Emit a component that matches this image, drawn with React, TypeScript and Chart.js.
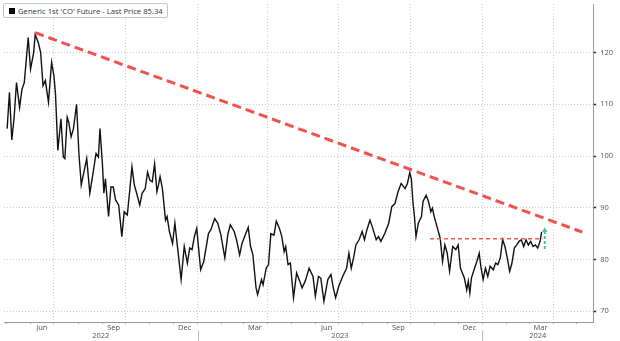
import React, { useEffect, useRef } from 'react';
import { Chart, registerables } from 'chart.js';

Chart.register(...registerables);

// ---- data ----
const DATES = [
  '2022-05-02','2022-05-05','2022-05-08','2022-05-11','2022-05-14','2022-05-18','2022-05-21','2022-05-24','2022-05-29','2022-06-01',
  '2022-06-05','2022-06-07','2022-06-11','2022-06-14','2022-06-17','2022-06-20','2022-06-24','2022-06-28','2022-07-01','2022-07-03',
  '2022-07-06','2022-07-10','2022-07-13','2022-07-15','2022-07-18','2022-07-20','2022-07-23','2022-07-26','2022-07-30','2022-08-02',
  '2022-08-05','2022-08-08','2022-08-12','2022-08-16','2022-08-20','2022-08-24','2022-08-27','2022-08-29','2022-09-01','2022-09-03',
  '2022-09-05','2022-09-09','2022-09-12','2022-09-15','2022-09-18','2022-09-22','2022-09-26','2022-09-29','2022-10-03','2022-10-06',
  '2022-10-09','2022-10-12','2022-10-15','2022-10-19','2022-10-22','2022-10-26','2022-10-29','2022-11-01','2022-11-04','2022-11-07',
  '2022-11-10','2022-11-12','2022-11-14','2022-11-17','2022-11-21','2022-11-23','2022-11-26','2022-11-30','2022-12-03','2022-12-07',
  '2022-12-11','2022-12-15','2022-12-19','2022-12-22','2022-12-25','2022-12-28','2022-12-31','2023-01-05','2023-01-09','2023-01-15',
  '2023-01-18','2023-01-23','2023-01-27','2023-01-31','2023-02-05','2023-02-09','2023-02-12','2023-02-17','2023-02-20','2023-02-24',
  '2023-02-27','2023-03-03','2023-03-07','2023-03-10','2023-03-13','2023-03-17','2023-03-19','2023-03-24','2023-03-26','2023-03-30',
  '2023-04-02','2023-04-05','2023-04-09','2023-04-12','2023-04-16','2023-04-19','2023-04-22','2023-04-24','2023-04-27','2023-04-30',
  '2023-05-04','2023-05-08','2023-05-12','2023-05-15','2023-05-19','2023-05-24','2023-05-29','2023-06-01','2023-06-05','2023-06-08',
  '2023-06-12','2023-06-17','2023-06-21','2023-06-24','2023-06-27','2023-07-01','2023-07-06','2023-07-11','2023-07-14','2023-07-17',
  '2023-07-20','2023-07-23','2023-07-27','2023-07-31','2023-08-03','2023-08-06','2023-08-10','2023-08-13','2023-08-18','2023-08-21',
  '2023-08-24','2023-08-29','2023-09-03','2023-09-07','2023-09-11','2023-09-15','2023-09-19','2023-09-24','2023-09-27','2023-09-30',
  '2023-10-02','2023-10-04','2023-10-06','2023-10-08','2023-10-11','2023-10-15','2023-10-17','2023-10-21','2023-10-24','2023-10-27',
  '2023-10-29','2023-11-01','2023-11-04','2023-11-08','2023-11-11','2023-11-14','2023-11-17','2023-11-20','2023-11-24','2023-11-28',
  '2023-12-01','2023-12-04','2023-12-09','2023-12-12','2023-12-14','2023-12-16','2023-12-18','2023-12-22','2023-12-25','2023-12-28',
  '2023-12-30','2024-01-02','2024-01-05','2024-01-08','2024-01-11','2024-01-15','2024-01-18','2024-01-21','2024-01-24','2024-01-27',
  '2024-01-30','2024-02-02','2024-02-05','2024-02-08','2024-02-11','2024-02-14','2024-02-17','2024-02-20','2024-02-23','2024-02-26',
  '2024-02-29','2024-03-03','2024-03-06','2024-03-09','2024-03-12','2024-03-15','2024-03-17',
];
const PRICES = [
  105.3,112.3,103.1,107.5,114.2,109.4,112.9,114.2,122.9,116.8,
  120.0,123.5,121.9,120.0,113.6,114.6,110.4,118.1,115.5,112.0,
  101.1,107.2,99.8,99.5,107.5,106.5,103.7,105.3,110.0,100.5,
  94.4,96.6,99.5,92.8,96.6,100.5,99.8,105.3,98.8,92.8,
  95.6,88.3,94.0,94.0,91.5,90.5,84.4,89.2,88.6,93.1,
  97.9,94.4,92.8,90.5,92.8,93.7,96.9,95.3,95.0,98.5,
  93.1,94.4,96.0,93.7,87.6,88.3,85.4,83.1,87.0,81.5,
  76.1,82.5,79.3,82.2,81.9,84.4,86.0,78.0,79.6,85.0,
  85.7,87.9,87.0,84.7,80.3,85.0,86.7,85.4,83.8,80.9,
  83.1,84.7,86.2,82.5,80.9,74.5,73.2,76.1,75.1,78.3,
  79.0,85.0,84.7,87.4,86.0,84.4,81.5,82.5,79.0,79.3,
  72.6,77.4,75.8,74.5,75.8,78.3,76.7,72.9,76.7,76.4,
  71.9,76.1,77.1,74.5,72.6,74.8,76.7,78.3,81.2,78.3,
  80.3,82.8,83.8,85.4,83.8,85.7,87.6,86.3,83.8,84.4,
  83.5,85.0,87.0,90.2,90.8,93.1,94.7,93.7,94.7,96.8,
  95.6,91.2,88.3,84.4,87.0,88.3,91.2,92.4,91.2,89.2,
  89.9,87.9,86.3,84.1,79.6,82.8,81.2,77.7,82.5,81.9,
  82.8,78.3,76.4,74.1,75.8,73.5,76.4,78.3,79.6,81.2,
  78.7,76.1,78.3,76.7,78.7,78.0,79.3,79.0,80.3,83.8,
  82.5,80.3,77.7,79.3,82.2,82.8,83.5,83.8,82.5,83.8,
  82.8,83.5,82.5,82.8,82.2,83.5,85.34,
];

const TREND_DATES = ['2022-06-07', '2024-05-08'];
const TREND_VALUES = [123.85, 85.3];
const LEVEL_DATES = ['2023-10-26', '2024-03-18'];
const LEVEL_VALUES = [84.0, 84.0];
const ARROW_DATES = ['2024-03-21', '2024-03-21'];
const ARROW_VALUES = [82.0, 85.6];

const X_MIN = '2022-04-28';
const X_MAX = '2024-05-22';
const Y_MIN = 67.9;
const Y_MAX = 129.4;
const Y_TICKS = [70, 80, 90, 100, 110, 120];
const MONTH_NAMES = ['Jan','Feb','Mar','Apr','May','Jun','Jul','Aug','Sep','Oct','Nov','Dec'];
const LABELLED_MONTHS = [2, 5, 8, 11];
const YEARS = [2022, 2023, 2024];
const SERIES_NAME = "Generic 1st 'CO' Future - Last Price";

const FONT = 'Open Sans';
const t = (s: string) => Date.parse(s);

export default function App() {
  const ref = useRef<HTMLCanvasElement>(null);

  useEffect(() => {
    if (!ref.current) return;
    const xmin = t(X_MIN);
    const xmax = t(X_MAX);

    const monthTicks: number[] = [];
    const monthLabels = new Map<number, string>();
    const start = new Date(xmin);
    let y = start.getUTCFullYear();
    let m = start.getUTCMonth();
    while (Date.UTC(y, m, 1) <= xmax) {
      const ms = Date.UTC(y, m, 1);
      if (ms >= xmin) monthTicks.push(ms);
      if (LABELLED_MONTHS.includes(m)) {
        const mid = Date.UTC(y, m, 15, 12);
        if (mid > xmin && mid < xmax) monthLabels.set(mid, MONTH_NAMES[m]);
      }
      m++;
      if (m > 11) { m = 0; y++; }
    }

    const yearLabels = new Map<number, string>();
    const yearSeps: number[] = [];
    YEARS.forEach((yr) => {
      const a = Math.max(xmin, Date.UTC(yr, 0, 1));
      const b = Math.min(xmax, Date.UTC(yr + 1, 0, 1));
      yearLabels.set((a + b) / 2, String(yr));
      const s = Date.UTC(yr, 0, 1);
      if (s > xmin && s < xmax) yearSeps.push(s);
    });

    const zeroPad = (s: any) => { s.paddingLeft = 0; s.paddingRight = 0; s.paddingTop = 0; s.paddingBottom = 0; };
    const labelFont = { family: FONT, size: 7.5, lineHeight: 1 };

    const yearSeparators = {
      id: 'yearSeparators',
      afterDraw(c: any) {
        const s = c.scales.xy;
        const ctx = c.ctx;
        ctx.save();
        ctx.strokeStyle = '#bbb';
        ctx.lineWidth = 1;
        yearSeps.forEach((v) => {
          const px = Math.round(s.getPixelForValue(v)) + 0.5;
          ctx.beginPath();
          ctx.moveTo(px, s.top - 1);
          ctx.lineTo(px, c.height);
          ctx.stroke();
        });
        ctx.restore();
      },
    };

    const chart = new Chart(ref.current, {
      type: 'line',
      data: {
        datasets: [
          {
            data: DATES.map((d, i) => ({ x: t(d), y: PRICES[i] })),
            borderColor: '#111',
            borderWidth: 1.4,
            pointRadius: 0,
            tension: 0,
            order: 3,
          },
          {
            data: TREND_DATES.map((d, i) => ({ x: t(d), y: TREND_VALUES[i] })),
            borderColor: '#f2524c',
            borderWidth: 3,
            borderDash: [9, 5],
            pointRadius: 0,
            order: 1,
          },
          {
            data: LEVEL_DATES.map((d, i) => ({ x: t(d), y: LEVEL_VALUES[i] })),
            borderColor: '#ef5a55',
            borderWidth: 1.4,
            borderDash: [4, 3],
            pointRadius: 0,
            order: 2,
          },
          {
            data: ARROW_DATES.map((d, i) => ({ x: t(d), y: ARROW_VALUES[i] })),
            borderColor: '#47c29d',
            backgroundColor: '#47c29d',
            borderWidth: 2,
            borderDash: [3, 2],
            pointRadius: [0, 3.2],
            pointStyle: 'triangle',
            pointBorderWidth: 0,
            pointBackgroundColor: '#47c29d',
            order: 0,
          },
        ],
      },
      options: {
        animation: false,
        responsive: false,
        devicePixelRatio: 1,
        layout: { padding: { left: 0, right: 3, top: 0, bottom: 0 } },
        plugins: { legend: { display: false }, tooltip: { enabled: false } },
        scales: {
          x: {
            type: 'linear', axis: 'x', position: 'bottom', min: xmin, max: xmax, bounds: 'data', weight: 0,
            afterBuildTicks: (s: any) => { s.ticks = monthTicks.map((v) => ({ value: v })); },
            afterFit: zeroPad,
            ticks: { display: false, autoSkip: false },
            grid: {
              color: (c: any) => (c.tick && new Date(c.tick.value).getUTCMonth() % 3 === 0 ? '#cdcdcd' : 'rgba(0,0,0,0)'),
              lineWidth: 1, drawTicks: true, tickLength: 2, tickColor: '#aaa', tickBorderDash: [],
            },
            border: { display: true, color: '#9a9a9a', width: 1, dash: [1, 2] },
          },
          xm: {
            type: 'linear', axis: 'x', position: 'bottom', min: xmin, max: xmax, bounds: 'data', weight: 1,
            afterBuildTicks: (s: any) => { s.ticks = Array.from(monthLabels.keys()).map((v) => ({ value: v })); },
            afterFit: zeroPad,
            ticks: { autoSkip: false, maxRotation: 0, padding: 0, color: '#555', font: labelFont, callback: (v: any) => monthLabels.get(v) ?? '' },
            grid: { display: false, drawTicks: false },
            border: { display: false },
          },
          xy: {
            type: 'linear', axis: 'x', position: 'bottom', min: xmin, max: xmax, bounds: 'data', weight: 2,
            afterBuildTicks: (s: any) => { s.ticks = Array.from(yearLabels.keys()).map((v) => ({ value: v })); },
            afterFit: zeroPad,
            ticks: { autoSkip: false, maxRotation: 0, padding: 1, color: '#555', font: labelFont, callback: (v: any) => yearLabels.get(v) ?? '' },
            grid: { display: false, drawTicks: false },
            border: { display: false },
          },
          y: {
            type: 'linear', position: 'right', min: Y_MIN, max: Y_MAX, bounds: 'data',
            afterBuildTicks: (s: any) => { s.ticks = Y_TICKS.map((v) => ({ value: v })); },
            afterFit: zeroPad,
            ticks: { color: '#555', font: labelFont, padding: 4 },
            grid: { color: '#cdcdcd', lineWidth: 1, tickColor: '#222', tickLength: 3, tickWidth: 1.5, tickBorderDash: [] },
            border: { display: true, color: '#9a9a9a', width: 1, dash: [1, 2] },
          },
        },
      } as any,
      plugins: [yearSeparators],
    });
    return () => chart.destroy();
  }, []);

  const last = PRICES[PRICES.length - 1].toFixed(2);

  return (
    <div style={{ position: 'fixed', left: 0, top: 0, width: 620, height: 341, background: '#fff', overflow: 'hidden' }}>
      <canvas ref={ref} width={620} height={341} style={{ display: 'block', width: 620, height: 341 }} />
      <div
        style={{
          position: 'absolute', left: 3, top: 3, height: 13, padding: '0 4px 0 5px',
          border: '1px solid #c4c4c4', borderRadius: 2, background: '#fff',
          display: 'flex', alignItems: 'center', fontFamily: FONT, fontSize: 7.7, color: '#333', whiteSpace: 'nowrap',
        }}
      >
        <span style={{ display: 'inline-block', width: 6, height: 6, background: '#000', marginRight: 3 }} />
        {SERIES_NAME} {last}
      </div>
    </div>
  );
}
